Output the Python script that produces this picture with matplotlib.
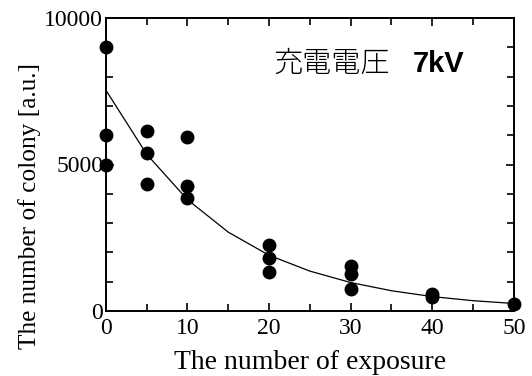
import matplotlib
matplotlib.use("Agg")
import matplotlib.pyplot as plt
from matplotlib.ticker import MultipleLocator

# Measured data points (exposure count, colony count)
exposure = [0, 0, 0, 5, 5, 5, 10, 10, 10, 20, 20, 20, 30, 30, 30, 40, 40, 50]
colony = [9000, 6000, 5000, 6150, 5400, 4350, 5950, 4250, 3850,
          2250, 1820, 1340, 1520, 1250, 740, 590, 480, 250]

# Fitted curve
curve_x = [0, 5, 10, 15, 20, 25, 30, 35, 40, 45, 50]
curve_y = [7540, 5350, 3800, 2690, 1900, 1360, 970, 690, 490, 350, 255]

x_ticks = [0, 10, 20, 30, 40, 50]
y_ticks = [0, 5000, 10000]

fig = plt.figure(figsize=(5.32, 3.76), dpi=100)
ax = fig.add_axes([0.199, 0.173, 0.767, 0.779])

ax.plot(curve_x, curve_y, color="black", lw=0.9, zorder=2)
ax.plot(exposure, colony, "o", color="black", ms=9, zorder=3, clip_on=False)

ax.set_xlim(0, 50)
ax.set_ylim(0, 10000)
ax.set_xticks(x_ticks)
ax.set_yticks(y_ticks)
ax.xaxis.set_minor_locator(MultipleLocator(5))
ax.yaxis.set_minor_locator(MultipleLocator(1000))
ax.tick_params(which="both", direction="in", top=True, right=True, width=1.2)
ax.tick_params(which="major", length=6, labelsize=17)
ax.tick_params(which="minor", length=5)
ax.tick_params(axis="x", which="major", pad=5)
ax.tick_params(axis="y", which="major", pad=2)
for lab in ax.get_xticklabels() + ax.get_yticklabels():
    lab.set_family("Liberation Serif")
for s in ax.spines.values():
    s.set_linewidth(1.4)

ax.set_xlabel("The number of exposure", family="Liberation Serif", fontsize=20, labelpad=8)
ax.set_ylabel("The number of colony [a.u.]", family="Liberation Serif", fontsize=18.3)
ax.yaxis.set_label_coords(-0.159, 0.36)

ax.text(0.41, 0.843, "充電電圧", transform=ax.transAxes, family=["Noto Sans CJK JP", "DejaVu Sans"],
        fontsize=21, fontweight="light", va="center", ha="left")
ax.text(0.752, 0.843, "7kV", transform=ax.transAxes, family="Liberation Sans",
        fontsize=21, fontweight="bold", va="center", ha="left")

fig.savefig("out.png", dpi=100, facecolor="white")
